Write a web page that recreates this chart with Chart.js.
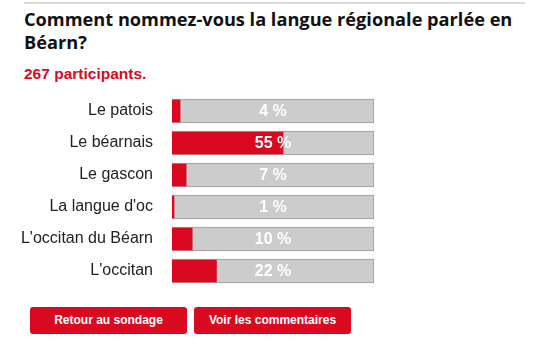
<!DOCTYPE html>
<html><head><meta charset="utf-8">
<script src="https://cdn.jsdelivr.net/npm/chart.js@4"></script>
<style>
html,body{margin:0;padding:0;background:#fff;width:535px;height:348px;overflow:hidden;position:relative;font-family:"Liberation Sans",Arial,sans-serif;}
#rule{position:absolute;left:24px;top:2px;width:501px;height:2px;background:#dcdcdc;}
#title{position:absolute;left:24px;top:8px;width:510px;font-family:"Open Sans",sans-serif;font-weight:700;font-size:18.2px;line-height:23px;color:#111;}
#count{position:absolute;left:24px;top:65px;font-weight:700;font-size:15.5px;color:#d90a1f;}
#c{position:absolute;left:0;top:95px;}
.btn{position:absolute;top:307px;height:27px;width:157px;background:#d90a1f;border-radius:3px;color:#fff;font-weight:700;font-size:12px;line-height:27px;text-align:center;}
</style></head><body>
<div id="rule"></div>
<div id="title">Comment nommez-vous la langue régionale parlée en Béarn?</div>
<div id="count">267 participants.</div>
<canvas id="c" width="374" height="192"></canvas>
<div class="btn" style="left:30px">Retour au sondage</div>
<div class="btn" style="left:194px">Voir les commentaires</div>
<script>
const categories = ["Le patois","Le béarnais","Le gascon","La langue d'oc","L'occitan du Béarn","L'occitan"];
const percentages = [4,55,7,1,10,22];
const fullScale = [100,100,100,100,100,100];

const pctLabels = {
  id:'pctLabels',
  afterDatasetsDraw(chart){
    const ctx = chart.ctx, ys = chart.scales.y, area = chart.chartArea;
    ctx.save();
    ctx.font = 'bold 16px "Liberation Sans", Arial, sans-serif';
    ctx.fillStyle = '#fff';
    ctx.textAlign = 'center';
    ctx.textBaseline = 'middle';
    percentages.forEach((v,i)=>{
      ctx.fillText(v + ' %', (area.left+area.right)/2, ys.getPixelForValue(i)+1);
    });
    ctx.restore();
  }
};

new Chart(document.getElementById('c'), {
  type:'bar',
  data:{
    labels:categories,
    datasets:[
      {data:percentages, backgroundColor:'#d90a1f', borderWidth:0, barThickness:22, grouped:false},
      {data:fullScale, backgroundColor:'#cccccc', borderColor:'#999999', borderWidth:1, barThickness:24, grouped:false}
    ]
  },
  options:{
    indexAxis:'y',
    responsive:false, maintainAspectRatio:false, animation:false,
    layout:{padding:0},
    plugins:{legend:{display:false}, tooltip:{enabled:false}},
    scales:{
      x:{display:false, min:0, max:100},
      y:{
        grid:{display:false, drawTicks:false}, border:{display:false},
        ticks:{padding:19, color:'#222', font:{family:'"Liberation Sans", Arial, sans-serif', size:16}},
        afterFit(s){ s.width = 172; s.paddingTop = 0; s.paddingBottom = 0; }
      }
    }
  },
  plugins:[pctLabels]
});
</script>
</body></html>
